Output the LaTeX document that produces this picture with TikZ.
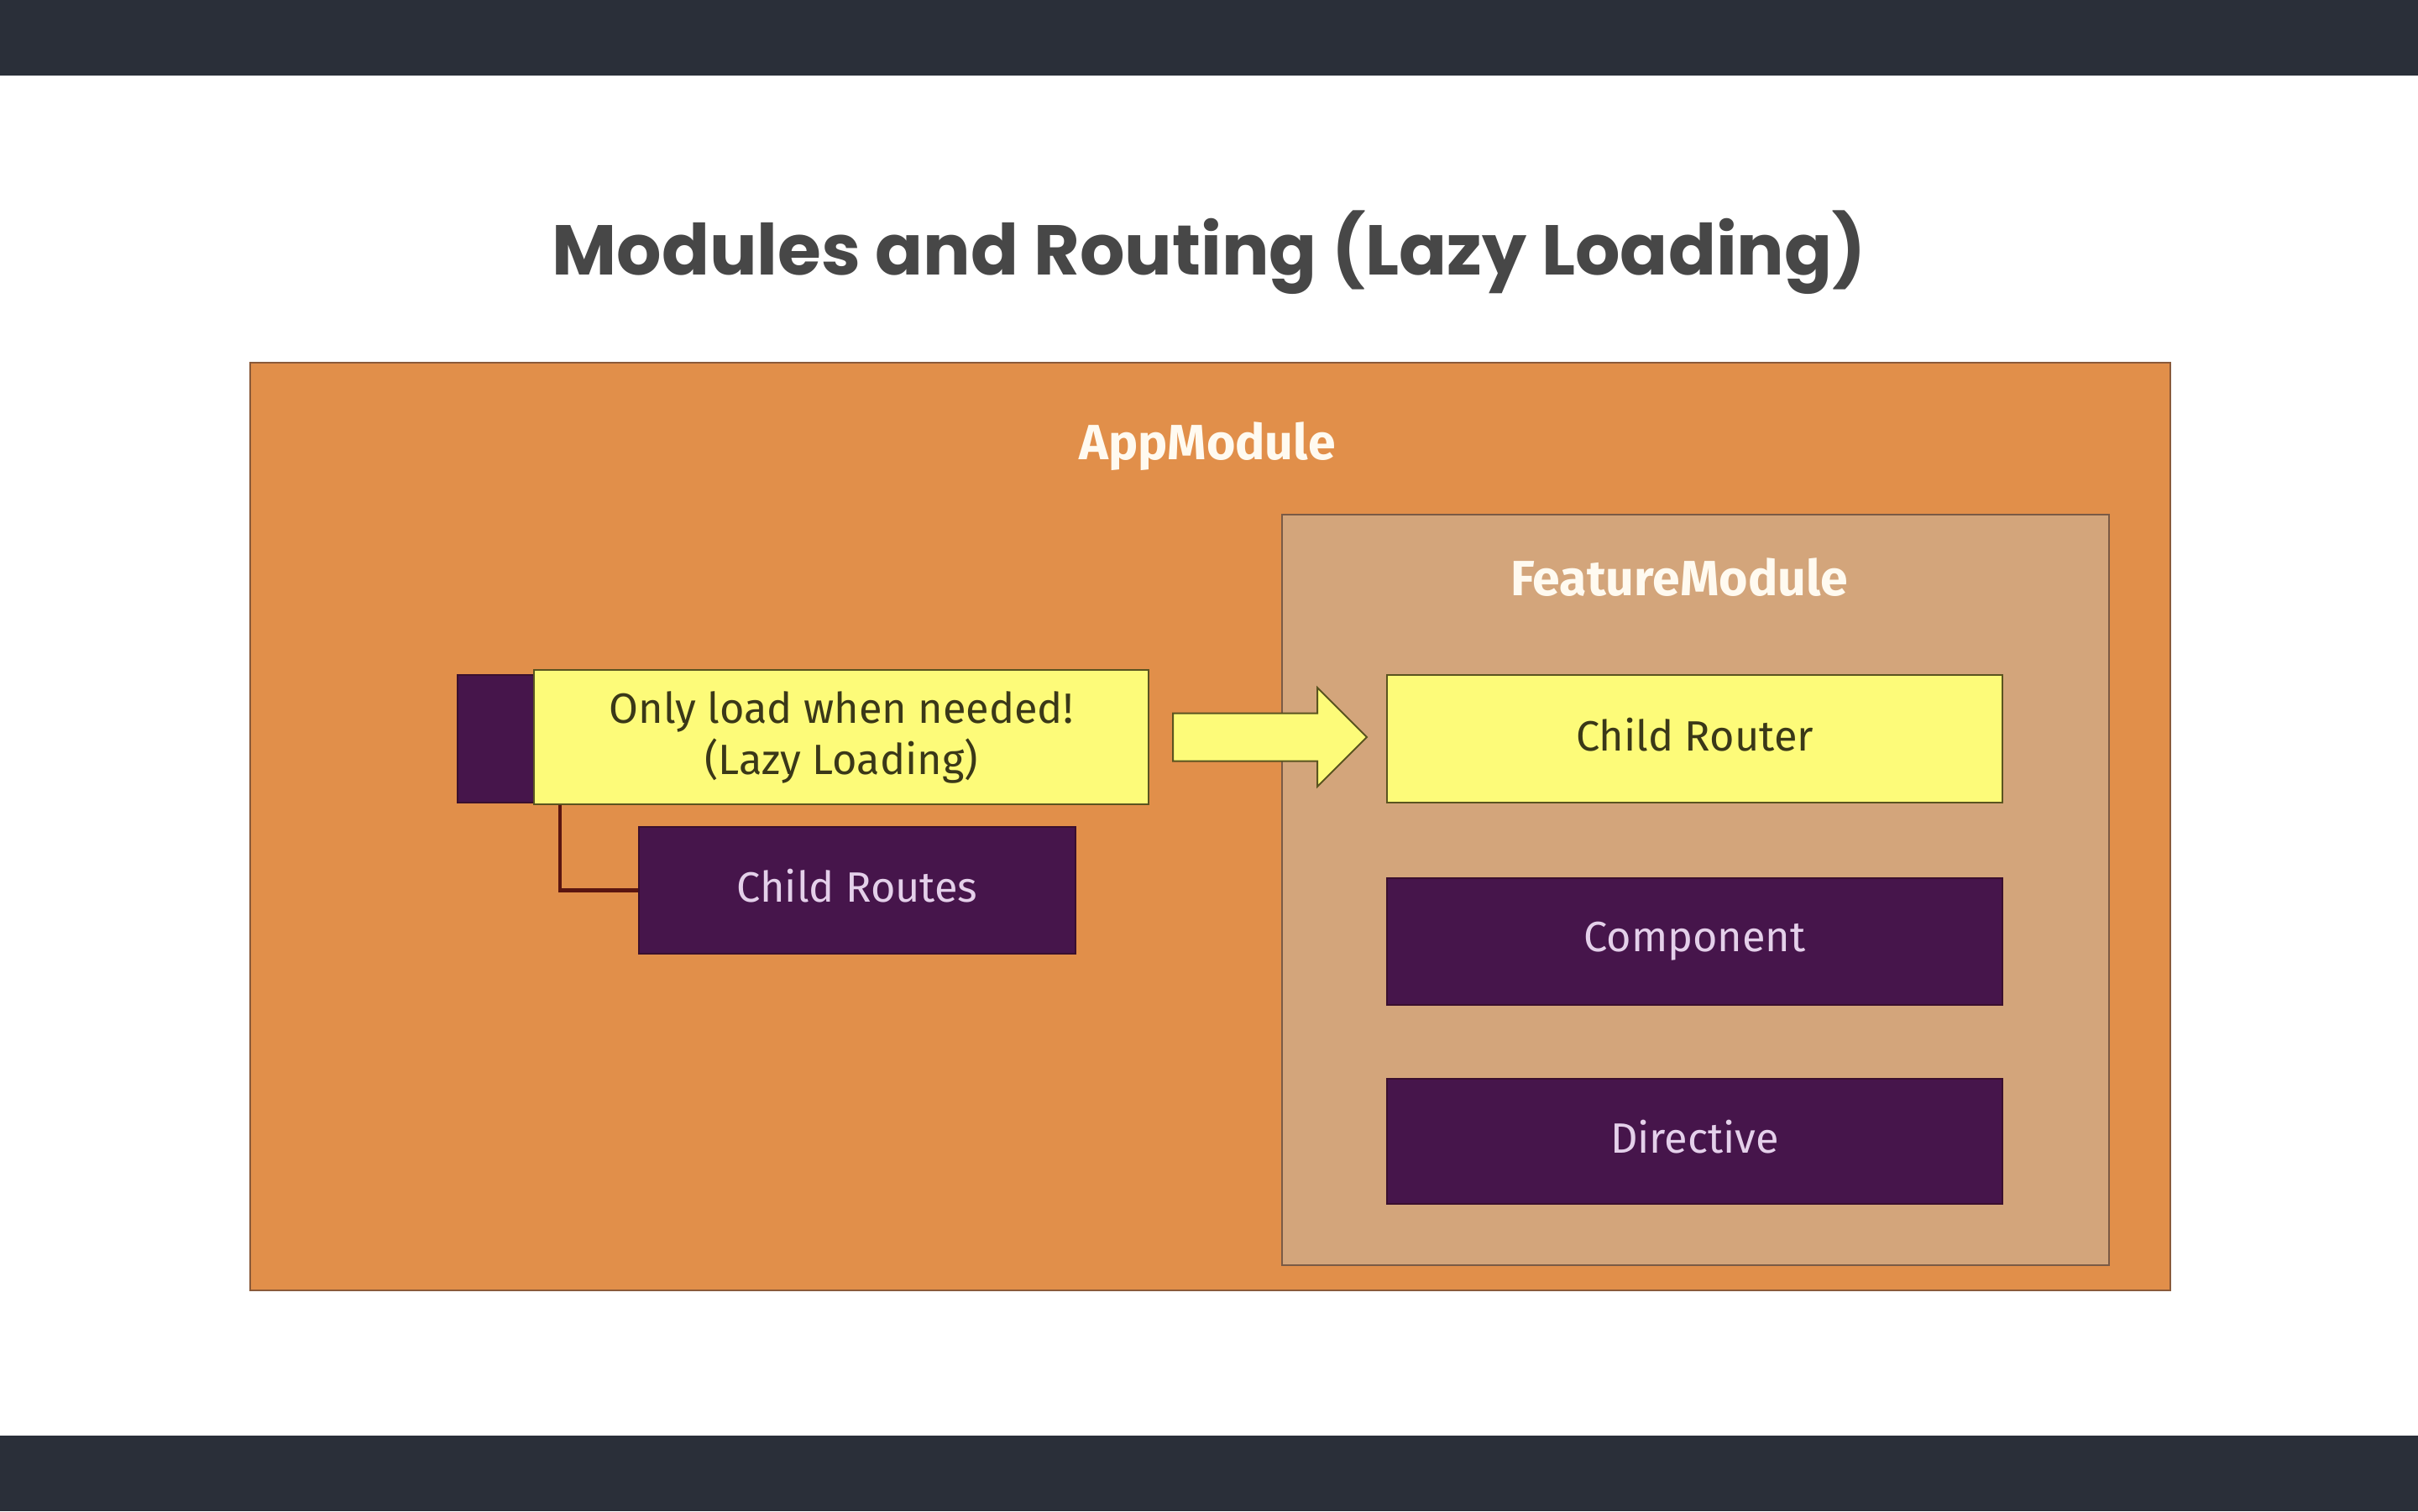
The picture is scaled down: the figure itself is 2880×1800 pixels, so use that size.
\documentclass[tikz,border=0pt]{standalone}
\usepackage{fontspec}
\setmainfont{Fira Sans}
\newfontfamily\titlefont{Poppins}
\usetikzlibrary{shapes.arrows,calc}

\definecolor{barcol}{HTML}{2A2F39}
\definecolor{appfill}{HTML}{E18F4A}
\definecolor{appline}{HTML}{8A5A3A}
\definecolor{featfill}{HTML}{D3A57B}
\definecolor{featline}{HTML}{7A5A45}
\definecolor{lemon}{HTML}{FDFB79}
\definecolor{lemonline}{HTML}{5A5420}
\definecolor{lemontext}{HTML}{3A3818}
\definecolor{plum}{HTML}{46154B}
\definecolor{plumline}{HTML}{3A0F2E}
\definecolor{plumtext}{HTML}{E4D0EA}
\definecolor{labelwhite}{HTML}{FFFAF0}
\definecolor{titlegray}{HTML}{474747}
\definecolor{wire}{HTML}{5A1510}

\tikzset{
  modbox/.style={anchor=north west, inner sep=0pt, line width=2pt},
  modlabel/.style={anchor=base, text=labelwhite, font=\fontsize{59}{70}\selectfont\bfseries},
  lemonbox/.style={draw=lemonline, fill=lemon, line width=2pt, inner sep=0pt,
    text=lemontext, align=center, font=\fontsize{50.5}{61}\selectfont},
  plumbox/.style={draw=plumline, fill=plum, line width=2pt, inner sep=0pt,
    text=plumtext, font=\fontsize{50.5}{61}\selectfont},
  oneline/.style={text depth=11pt},
  wirestyle/.style={draw=wire, line width=4.5pt},
}

\begin{document}
\begin{tikzpicture}[x=1pt,y=-1pt]
\useasboundingbox (0,0) rectangle (2880,1800);
% page background and the two dark bands
\fill[white] (0,0) rectangle (2880,1800);
\fill[barcol] (0,0) rectangle (2880,90);
\fill[barcol] (0,1710) rectangle (2880,1800);

% title
\node[anchor=base, text=titlegray, inner sep=0pt,
  font=\titlefont\bfseries\fontsize{84}{94}\selectfont] (title) at (1440,327)
  {Modules and Routing (Lazy Loading)};

% outer module
\node[modbox, draw=appline, fill=appfill, minimum width=2287pt, minimum height=1105pt]
  (app) at (297,431) {};
\node[modlabel] (applabel) at (1438,547) {AppModule};

% feature module
\node[modbox, draw=featline, fill=featfill, minimum width=985pt, minimum height=894pt]
  (feat) at (1526,612) {};
\node[modlabel] (featlabel) at (2000,709) {FeatureModule};

% lazy loading route with its marker and child routes
\node[plumbox, anchor=north west, minimum width=92pt, minimum height=152pt]
  (marker) at (544,803) {};
\node[lemonbox, anchor=north west, minimum width=732pt, minimum height=160pt]
  (lazy) at (635,797) {Only load when needed!\\(Lazy Loading)};
\node[plumbox, oneline, anchor=north west, minimum width=520pt, minimum height=151pt]
  (routes) at (760,984) {Child Routes};
\draw[wirestyle] ([xshift=32pt]lazy.south west) |- (routes.west);

% feature contents
\node[lemonbox, oneline, anchor=north west, minimum width=733pt, minimum height=152pt]
  (router) at (1651,803) {Child Router};
\node[plumbox, oneline, anchor=north west, minimum width=733pt, minimum height=151pt]
  (component) at (1651,1045) {Component};
\node[plumbox, oneline, anchor=north west, minimum width=733pt, minimum height=149pt]
  (directive) at (1651,1284) {Directive};

% block arrow from the lazy route to the child router
\node[single arrow, draw=lemonline, fill=lemon, line width=2pt, inner sep=0pt,
  minimum height=231pt, minimum width=116pt, single arrow head extend=30.5pt,
  single arrow tip angle=90, anchor=tail]
  (load) at ([xshift=27pt]lazy.east) {\rule{0pt}{55pt}};
\end{tikzpicture}
\end{document}
